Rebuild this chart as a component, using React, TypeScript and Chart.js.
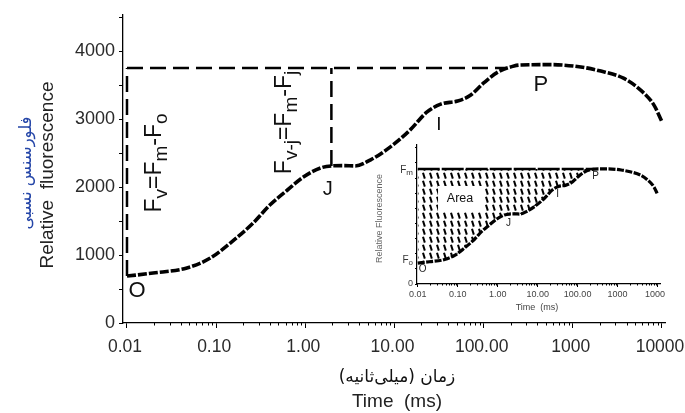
import React, { useEffect, useRef } from 'react';
import { Chart, registerables } from 'chart.js';

Chart.register(...registerables);

// ---------- data ----------
const timeMs = [0.01, 0.0196, 0.047, 0.086, 0.144, 0.26, 0.4, 0.63, 0.95, 1.48, 1.96, 2.7, 3.6, 5.4, 9.0, 15, 23, 33, 51, 71, 100, 144, 219, 261, 566, 1230, 2060, 3700, 5760, 8130, 10000];
const fluorescence = [690, 735, 810, 955, 1176, 1470, 1735, 1956, 2147, 2280, 2310, 2315, 2310, 2400, 2590, 2840, 3100, 3220, 3265, 3350, 3530, 3690, 3780, 3795, 3800, 3765, 3705, 3600, 3425, 3205, 2960];

const xTickValues = [0.01, 0.1, 1, 10, 100, 1000, 10000];
const xTickLabels = ['0.01', '0.10', '1.00', '10.00', '100.00', '1000', '10000'];
const yTickValues = [0, 500, 1000, 1500, 2000, 2500, 3000, 3500, 4000, 4500];
const yTickLabels = ['0', '', '1000', '', '2000', '', '3000', '', '4000', ''];

const foLevel = 690;
const fmLevel = 3750;
const jTime = 1.96;
const jLevel = 2310;
const fmLineEndMs = 180;

const insetFmLevel = 3800;
const areaEndMs = 261;

const phaseLabels = ['O', 'J', 'I', 'P'];
const phaseLabelMs = [0.01295, 1.79, 31.5, 438];
const phaseLabelValues = [493, 1993, 2934, 3522];
const insetPhaseLabelMs = [0.0133, 1.88, 31.6, 282];
const insetPhaseLabelValues = [530, 2050, 3007, 3600];

const FONT = "'Liberation Sans', Arial, Helvetica, sans-serif";
const AR_FONT = "'DejaVu Sans', sans-serif";

type Part = [string, boolean];

function drawSubText(ctx: CanvasRenderingContext2D, parts: Part[], cx: number, cy: number, size: number, subSize: number, rotate: boolean, align: 'center' | 'right' = 'center') {
  ctx.save();
  ctx.translate(cx, cy);
  if (rotate) ctx.rotate(-Math.PI / 2);
  let total = 0;
  const widths: number[] = [];
  parts.forEach(([t, sub]) => {
    ctx.font = `${sub ? subSize : size}px ${FONT}`;
    const w = ctx.measureText(t).width;
    widths.push(w);
    total += w;
  });
  let x = align === 'center' ? -total / 2 : -total;
  const base = size * 0.36;
  ctx.textAlign = 'left';
  ctx.textBaseline = 'alphabetic';
  parts.forEach(([t, sub], i) => {
    ctx.font = `${sub ? subSize : size}px ${FONT}`;
    ctx.fillText(t, x, sub ? base + size * 0.24 : base);
    x += widths[i];
  });
  ctx.restore();
}

function drawMinorTicks(chart: any, len: number) {
  const xs = chart.scales.x;
  const ctx = chart.ctx as CanvasRenderingContext2D;
  const y0 = chart.chartArea.bottom;
  ctx.save();
  ctx.strokeStyle = '#000';
  ctx.lineWidth = 1;
  for (let d = 0; d < xTickValues.length - 1; d++) {
    for (let k = 2; k <= 9; k++) {
      const px = Math.round(xs.getPixelForValue(xTickValues[d] * k)) + 0.5;
      ctx.beginPath();
      ctx.moveTo(px, y0);
      ctx.lineTo(px, y0 + len);
      ctx.stroke();
    }
  }
  ctx.restore();
}

function makeHatch(): CanvasPattern | string {
  const c = document.createElement('canvas');
  c.width = 7;
  c.height = 8;
  const g = c.getContext('2d');
  if (!g) return 'rgba(0,0,0,0.3)';
  g.strokeStyle = '#000';
  g.lineWidth = 2;
  g.beginPath();
  g.moveTo(2, 0.8);
  g.lineTo(3.8, 6.6);
  g.stroke();
  return g.createPattern(c, 'repeat') || 'rgba(0,0,0,0.3)';
}

const curvePoints = () => timeMs.map((t, i) => ({ x: t, y: fluorescence[i] }));

export default function App() {
  const mainRef = useRef<HTMLCanvasElement>(null);
  const insetRef = useRef<HTMLCanvasElement>(null);

  useEffect(() => {
    if (!mainRef.current || !insetRef.current) return;

    const mainPlugin = {
      id: 'mainDecor',
      afterDraw(chart: any) {
        const ctx = chart.ctx as CanvasRenderingContext2D;
        const xs = chart.scales.x;
        const ys = chart.scales.y;
        const area = chart.chartArea;
        drawMinorTicks(chart, 2.5);

        ctx.save();
        ctx.fillStyle = '#222';
        // y titles
        ctx.save();
        ctx.translate(48, (area.top + area.bottom) / 2 + 6);
        ctx.rotate(-Math.PI / 2);
        ctx.font = `19px ${FONT}`;
        ctx.textAlign = 'center';
        ctx.textBaseline = 'middle';
        ctx.fillText('Relative  fluorescence', 0, 0);
        ctx.restore();

        ctx.save();
        ctx.translate(27, (area.top + area.bottom) / 2 + 4);
        ctx.rotate(-Math.PI / 2);
        ctx.font = `16.5px ${AR_FONT}`;
        ctx.fillStyle = '#2546a8';
        ctx.textAlign = 'center';
        ctx.textBaseline = 'middle';
        ctx.direction = 'rtl';
        ctx.fillText('فلورسنس نسبی', 0, 0);
        ctx.restore();

        // x titles
        const cx = (area.left + area.right) / 2 + 3;
        ctx.save();
        ctx.font = `17px ${AR_FONT}`;
        ctx.fillStyle = '#111';
        ctx.textAlign = 'center';
        ctx.textBaseline = 'middle';
        ctx.direction = 'rtl';
        ctx.fillText('زمان (میلی\u200Cثانیه)', cx, area.bottom + 55);
        ctx.restore();

        ctx.font = `19px ${FONT}`;
        ctx.textAlign = 'center';
        ctx.textBaseline = 'middle';
        ctx.fillText('Time  (ms)', cx, area.bottom + 79);

        // phase labels
        ctx.fillStyle = '#111';
        const sizes = [22, 20, 19, 22];
        phaseLabels.forEach((lab, i) => {
          ctx.font = `${sizes[i]}px ${FONT}`;
          ctx.textAlign = 'center';
          ctx.textBaseline = 'alphabetic';
          const px = xs.getPixelForValue(phaseLabelMs[i]);
          const py = ys.getPixelForValue(phaseLabelValues[i]);
          ctx.fillText(lab, px, py + sizes[i] * 0.36);
        });

        // formulas
        drawSubText(ctx, [['F', false], ['v', true], ['=F', false], ['m', true], ['-F', false], ['o', true]],
          xs.getPixelForValue(0.01956), ys.getPixelForValue(2353), 23, 19, true);
        drawSubText(ctx, [['F', false], ['v-j', true], ['=F', false], ['m', true], ['-F', false], ['j', true]],
          xs.getPixelForValue(0.561), ys.getPixelForValue(2949), 23, 19, true);
        ctx.restore();
      },
    };

    const lineStyle = { borderColor: '#000', pointRadius: 0, fill: false };

    const main = new Chart(mainRef.current, {
      type: 'line',
      data: {
        datasets: [
          { label: 'OJIP', data: curvePoints(), ...lineStyle, borderWidth: 3.6, borderDash: [9, 2], cubicInterpolationMode: 'monotone' } as any,
          { label: 'Fm', data: [{ x: timeMs[0], y: fmLevel }, { x: fmLineEndMs, y: fmLevel }], ...lineStyle, borderWidth: 2.5, borderDash: [16, 7] },
          { label: 'Fv', data: [{ x: timeMs[0], y: foLevel }, { x: timeMs[0], y: fmLevel }], ...lineStyle, borderWidth: 2.5, borderDash: [16, 7] },
          { label: 'Fv-j', data: [{ x: jTime, y: jLevel }, { x: jTime, y: fmLevel }], ...lineStyle, borderWidth: 2.5, borderDash: [16, 7] },
        ],
      },
      options: {
        responsive: false,
        animation: false,
        devicePixelRatio: 1,
        layout: { padding: { left: 0, top: 15, right: 20, bottom: 0 } },
        plugins: { legend: { display: false }, tooltip: { enabled: false }, title: { display: false } },
        scales: {
          x: {
            type: 'logarithmic',
            min: 0.00902,
            max: 10808,
            afterBuildTicks: (s: any) => { s.ticks = xTickValues.map((v) => ({ value: v, major: true })); },
            afterFit: (s: any) => { s.height = 90; s.paddingLeft = 0; s.paddingRight = 0; },
            grid: { display: true, drawOnChartArea: false, drawTicks: true, tickLength: 5, tickColor: '#000', tickWidth: 1 },
            border: { display: true, color: '#000', width: 1.3 },
            ticks: {
              autoSkip: false, maxRotation: 0, minRotation: 0, padding: 9, labelOffset: -2,
              color: '#2a2a2a', font: { family: FONT, size: 17.5 },
              callback: (_v: any, i: number) => xTickLabels[i],
            },
          },
          y: {
            type: 'linear',
            min: 0,
            max: 4530,
            afterBuildTicks: (s: any) => { s.ticks = yTickValues.map((v) => ({ value: v })); },
            afterFit: (s: any) => { s.width = 123; s.paddingTop = 0; s.paddingBottom = 0; },
            grid: { display: true, drawOnChartArea: false, drawTicks: true, tickLength: 4, tickColor: '#000', tickWidth: 1 },
            border: { display: true, color: '#000', width: 1.3 },
            ticks: {
              autoSkip: false, padding: 4,
              color: '#2a2a2a', font: { family: FONT, size: 18 },
              callback: (_v: any, i: number) => yTickLabels[i],
            },
          },
        },
      } as any,
      plugins: [mainPlugin],
    });

    const hatch = makeHatch();
    const areaCount = timeMs.filter((t) => t <= areaEndMs).length;

    const insetPlugin = {
      id: 'insetDecor',
      afterDatasetsDraw(chart: any) {
        const ctx = chart.ctx as CanvasRenderingContext2D;
        const xs = chart.scales.x;
        const ys = chart.scales.y;
        // white box + "Area"
        const ax = xs.getPixelForValue(0.1145);
        const ay = ys.getPixelForValue(2840);
        ctx.save();
        ctx.fillStyle = '#fff';
        ctx.fillRect(ax - 22, ay - 12, 44, 25);
        ctx.fillStyle = '#111';
        ctx.font = `12.5px ${FONT}`;
        ctx.textAlign = 'center';
        ctx.textBaseline = 'alphabetic';
        ctx.fillText('Area', ax, ay + 4.5);
        ctx.restore();
      },
      afterDraw(chart: any) {
        const ctx = chart.ctx as CanvasRenderingContext2D;
        const xs = chart.scales.x;
        const ys = chart.scales.y;
        const area = chart.chartArea;
        drawMinorTicks(chart, 1.5);
        ctx.save();
        ctx.fillStyle = '#222';
        phaseLabels.forEach((lab, i) => {
          ctx.font = `10px ${FONT}`;
          ctx.textAlign = 'center';
          ctx.textBaseline = 'alphabetic';
          ctx.fillText(lab, xs.getPixelForValue(insetPhaseLabelMs[i]), ys.getPixelForValue(insetPhaseLabelValues[i]) + 3.6);
        });
        ctx.fillStyle = '#333';
        drawSubText(ctx, [['F', false], ['m', true]], area.left - 4, ys.getPixelForValue(insetFmLevel), 10, 8, false, 'right');
        drawSubText(ctx, [['F', false], ['o', true]], area.left - 4, ys.getPixelForValue(foLevel) - 4, 10, 8, false, 'right');

        ctx.fillStyle = '#666';
        ctx.save();
        ctx.translate(15, (area.top + area.bottom) / 2 + 4);
        ctx.rotate(-Math.PI / 2);
        ctx.font = `9px ${FONT}`;
        ctx.textAlign = 'center';
        ctx.textBaseline = 'middle';
        ctx.fillText('Relative Fluorescence', 0, 0);
        ctx.restore();

        ctx.fillStyle = '#444';
        ctx.font = `9px ${FONT}`;
        ctx.textAlign = 'center';
        ctx.textBaseline = 'middle';
        ctx.fillText('Time  (ms)', 172, area.bottom + 24);
        ctx.restore();
      },
    };

    const inset = new Chart(insetRef.current, {
      type: 'line',
      data: {
        datasets: [
          { label: 'OJIP inset', data: curvePoints(), ...lineStyle, borderWidth: 3.2, borderDash: [7, 1.5], cubicInterpolationMode: 'monotone' } as any,
          { label: 'Fm inset', data: [{ x: timeMs[0], y: insetFmLevel }, { x: areaEndMs, y: insetFmLevel }], ...lineStyle, borderWidth: 2.5, borderDash: [22, 2] },
          {
            label: 'Area', data: curvePoints().slice(0, areaCount), borderWidth: 0, borderColor: 'rgba(0,0,0,0)', pointRadius: 0,
            cubicInterpolationMode: 'monotone', fill: { value: insetFmLevel }, backgroundColor: hatch,
          } as any,
        ],
      },
      options: {
        responsive: false,
        animation: false,
        devicePixelRatio: 1,
        layout: { padding: { left: 0, top: 5, right: 5, bottom: 0 } },
        plugins: { legend: { display: false }, tooltip: { enabled: false }, title: { display: false } },
        scales: {
          x: {
            type: 'logarithmic',
            min: 0.0096,
            max: 11500,
            afterBuildTicks: (s: any) => { s.ticks = xTickValues.map((v) => ({ value: v, major: true })); },
            afterFit: (s: any) => { s.height = 31; s.paddingLeft = 0; s.paddingRight = 0; },
            grid: { display: true, drawOnChartArea: false, drawTicks: true, tickLength: 3, tickColor: '#000', tickWidth: 1 },
            border: { display: true, color: '#000', width: 1.2 },
            ticks: {
              autoSkip: false, maxRotation: 0, minRotation: 0, padding: 2,
              color: '#444', font: { family: FONT, size: 9 },
              callback: (_v: any, i: number) => xTickLabels[i],
            },
          },
          y: {
            type: 'linear',
            min: 0,
            max: 4590,
            afterBuildTicks: (s: any) => { s.ticks = yTickValues.map((v) => ({ value: v })); },
            afterFit: (s: any) => { s.width = 52; s.paddingTop = 0; s.paddingBottom = 0; },
            grid: { display: true, drawOnChartArea: false, drawTicks: true, tickLength: 2, tickColor: '#000', tickWidth: 1 },
            border: { display: true, color: '#000', width: 1.2 },
            ticks: {
              autoSkip: false, padding: 2,
              color: '#444', font: { family: FONT, size: 9 },
              callback: (v: any) => (v === 0 ? '0' : ''),
            },
          },
        },
      } as any,
      plugins: [insetPlugin],
    });

    return () => {
      main.destroy();
      inset.destroy();
    };
  }, []);

  return (
    <div style={{ position: 'fixed', left: 0, top: 0, width: 685, height: 413, background: '#fff', overflow: 'hidden' }}>
      <canvas ref={mainRef} width={685} height={413} style={{ position: 'absolute', left: 0, top: 0, width: 685, height: 413 }} />
      <canvas ref={insetRef} width={300} height={175} style={{ position: 'absolute', left: 365, top: 140, width: 300, height: 175 }} />
    </div>
  );
}
